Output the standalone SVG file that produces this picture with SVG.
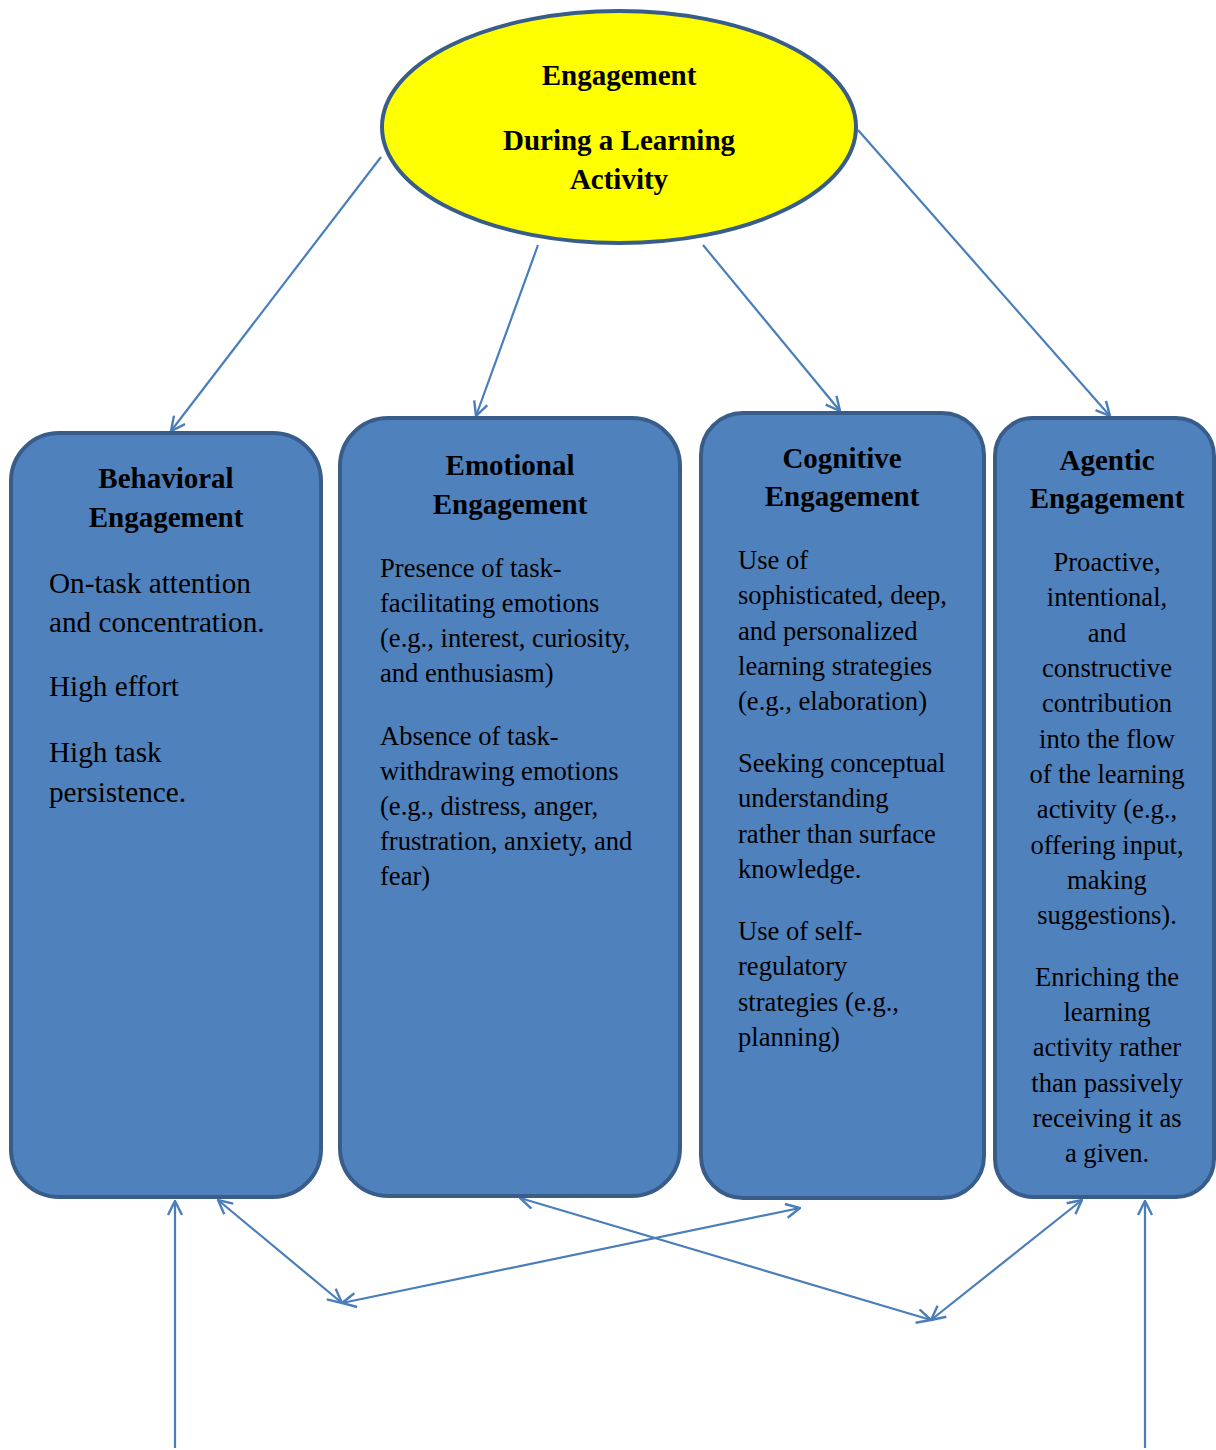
<svg xmlns="http://www.w3.org/2000/svg" width="1216" height="1450" viewBox="0 0 1216 1450">
  <style>
    .box { fill: #4f81bd; stroke: #385d8a; stroke-width: 4; }
    .oval { fill: #ffff00; stroke: #385d8a; stroke-width: 4; }
    .title { font-family: "Liberation Serif", "Times New Roman", serif; font-weight: bold; font-size: 29px; fill: #000; text-anchor: middle; }
    .body { font-family: "Liberation Serif", "Times New Roman", serif; font-size: 26.6px; fill: #000; }
    .big { font-size: 29.2px; }
    .mid { text-anchor: middle; }
    .link { fill: none; stroke: #4a7ebb; stroke-width: 2.2; }
  </style>
  <defs>
    <marker id="head" viewBox="0 0 16 16" refX="15" refY="8" markerWidth="16" markerHeight="16" markerUnits="userSpaceOnUse" orient="auto-start-reverse">
      <path d="M1,1 L15,8 L1,15" fill="none" stroke="#4a7ebb" stroke-width="2.4"/>
    </marker>
  </defs>

  <g id="connectors">
    <line class="link" x1="381" y1="157" x2="171" y2="431" marker-end="url(#head)"/>
    <line class="link" x1="538" y1="245" x2="476" y2="416" marker-end="url(#head)"/>
    <line class="link" x1="703" y1="245" x2="840" y2="411" marker-end="url(#head)"/>
    <line class="link" x1="858" y1="130" x2="1110" y2="416" marker-end="url(#head)"/>
    <line class="link" x1="175" y1="1448" x2="175" y2="1201" marker-end="url(#head)"/>
    <line class="link" x1="218" y1="1200" x2="342" y2="1303" marker-start="url(#head)" marker-end="url(#head)"/>
    <line class="link" x1="342" y1="1303" x2="800" y2="1208" marker-start="url(#head)" marker-end="url(#head)"/>
    <line class="link" x1="520" y1="1198" x2="931" y2="1320" marker-start="url(#head)" marker-end="url(#head)"/>
    <line class="link" x1="931" y1="1320" x2="1082" y2="1200" marker-start="url(#head)" marker-end="url(#head)"/>
    <line class="link" x1="1145" y1="1448" x2="1145" y2="1201" marker-end="url(#head)"/>
  </g>

  <g id="engagement">
    <ellipse class="oval" cx="619" cy="127" rx="237" ry="116"/>
    <text class="title" x="619" y="85">Engagement</text>
    <text class="title" x="619" y="150">During a Learning</text>
    <text class="title" x="619" y="189">Activity</text>
  </g>

  <g id="behavioral">
    <rect class="box" x="11" y="433" width="310" height="764" rx="48"/>
    <text class="title" x="166" y="488">Behavioral</text>
    <text class="title" x="166" y="527">Engagement</text>
    <text class="body big" x="49" y="593">On-task attention</text>
    <text class="body big" x="49" y="632">and concentration.</text>
    <text class="body big" x="49" y="696">High effort</text>
    <text class="body big" x="49" y="762">High task</text>
    <text class="body big" x="49" y="802">persistence.</text>
  </g>

  <g id="emotional">
    <rect class="box" x="340" y="418" width="340" height="778" rx="48"/>
    <text class="title" x="510" y="475">Emotional</text>
    <text class="title" x="510" y="514">Engagement</text>
    <text class="body" x="380" y="577">Presence of task-</text>
    <text class="body" x="380" y="612">facilitating emotions</text>
    <text class="body" x="380" y="647">(e.g., interest, curiosity,</text>
    <text class="body" x="380" y="682">and enthusiasm)</text>
    <text class="body" x="380" y="745">Absence of task-</text>
    <text class="body" x="380" y="780">withdrawing emotions</text>
    <text class="body" x="380" y="815">(e.g., distress, anger,</text>
    <text class="body" x="380" y="850">frustration, anxiety, and</text>
    <text class="body" x="380" y="885">fear)</text>
  </g>

  <g id="cognitive">
    <rect class="box" x="701" y="413" width="283" height="785" rx="42"/>
    <text class="title" x="842" y="468">Cognitive</text>
    <text class="title" x="842" y="506">Engagement</text>
    <text class="body" x="738" y="569">Use of</text>
    <text class="body" x="738" y="604">sophisticated, deep,</text>
    <text class="body" x="738" y="640">and personalized</text>
    <text class="body" x="738" y="675">learning strategies</text>
    <text class="body" x="738" y="710">(e.g., elaboration)</text>
    <text class="body" x="738" y="772">Seeking conceptual</text>
    <text class="body" x="738" y="807">understanding</text>
    <text class="body" x="738" y="843">rather than surface</text>
    <text class="body" x="738" y="878">knowledge.</text>
    <text class="body" x="738" y="940">Use of self-</text>
    <text class="body" x="738" y="975">regulatory</text>
    <text class="body" x="738" y="1011">strategies (e.g.,</text>
    <text class="body" x="738" y="1046">planning)</text>
  </g>

  <g id="agentic">
    <rect class="box" x="995" y="418" width="219" height="779" rx="38"/>
    <text class="title" x="1107" y="470">Agentic</text>
    <text class="title" x="1107" y="508">Engagement</text>
    <text class="body mid" x="1107" y="571">Proactive,</text>
    <text class="body mid" x="1107" y="606">intentional,</text>
    <text class="body mid" x="1107" y="642">and</text>
    <text class="body mid" x="1107" y="677">constructive</text>
    <text class="body mid" x="1107" y="712">contribution</text>
    <text class="body mid" x="1107" y="748">into the flow</text>
    <text class="body mid" x="1107" y="783">of the learning</text>
    <text class="body mid" x="1107" y="818">activity (e.g.,</text>
    <text class="body mid" x="1107" y="854">offering input,</text>
    <text class="body mid" x="1107" y="889">making</text>
    <text class="body mid" x="1107" y="924">suggestions).</text>
    <text class="body mid" x="1107" y="986">Enriching the</text>
    <text class="body mid" x="1107" y="1021">learning</text>
    <text class="body mid" x="1107" y="1056">activity rather</text>
    <text class="body mid" x="1107" y="1092">than passively</text>
    <text class="body mid" x="1107" y="1127">receiving it as</text>
    <text class="body mid" x="1107" y="1162">a given.</text>
  </g>
</svg>
